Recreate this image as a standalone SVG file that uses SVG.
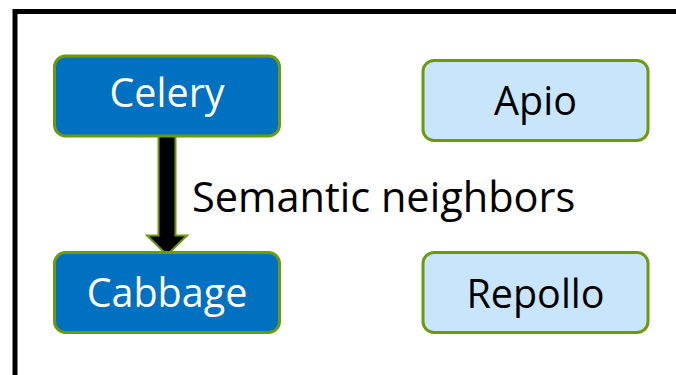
<svg xmlns="http://www.w3.org/2000/svg" width="676" height="375" viewBox="0 0 676 375">
  <style>
    .frame { fill: none; stroke: #000; stroke-width: 5; }
    .box { stroke: #6E9A0A; stroke-width: 3; }
    .dark { fill: #0070C0; }
    .light { fill: #C9E5FC; }
    .label { font-family: "Open Sans", "Liberation Sans", sans-serif; font-size: 39.5px; text-anchor: middle; }
    .white { fill: #fff; }
    .black { fill: #000; }
    .caption { font-family: "Open Sans", "Liberation Sans", sans-serif; font-size: 41.5px; fill: #000; }
  </style>
  <rect x="0" y="0" width="676" height="375" fill="#fff"/>
  <rect class="frame" x="15" y="11.5" width="700" height="400"/>

  <g id="connectors">
    <path d="M158.5 136 H175.5 V235.5 H187 L167 255 L147 235.5 H158.5 Z" fill="#000" stroke="#6E9A0A" stroke-width="2" stroke-linejoin="miter"/>
  </g>

  <g id="celery">
    <rect class="box dark" x="54.5" y="56" width="225" height="80" rx="11"/>
    <text class="label white" x="167" y="107">Celery</text>
  </g>
  <g id="apio">
    <rect class="box light" x="423" y="60.5" width="225" height="80" rx="11"/>
    <text class="label black" x="535.5" y="115">Apio</text>
  </g>
  <g id="cabbage">
    <rect class="box dark" x="54.5" y="252.5" width="225" height="80" rx="11"/>
    <text class="label white" x="167" y="307">Cabbage</text>
  </g>
  <g id="repollo">
    <rect class="box light" x="423" y="252.5" width="225" height="80" rx="11"/>
    <text class="label black" x="535.5" y="308">Repollo</text>
  </g>

  <text class="caption" x="192" y="212">Semantic neighbors</text>
</svg>
